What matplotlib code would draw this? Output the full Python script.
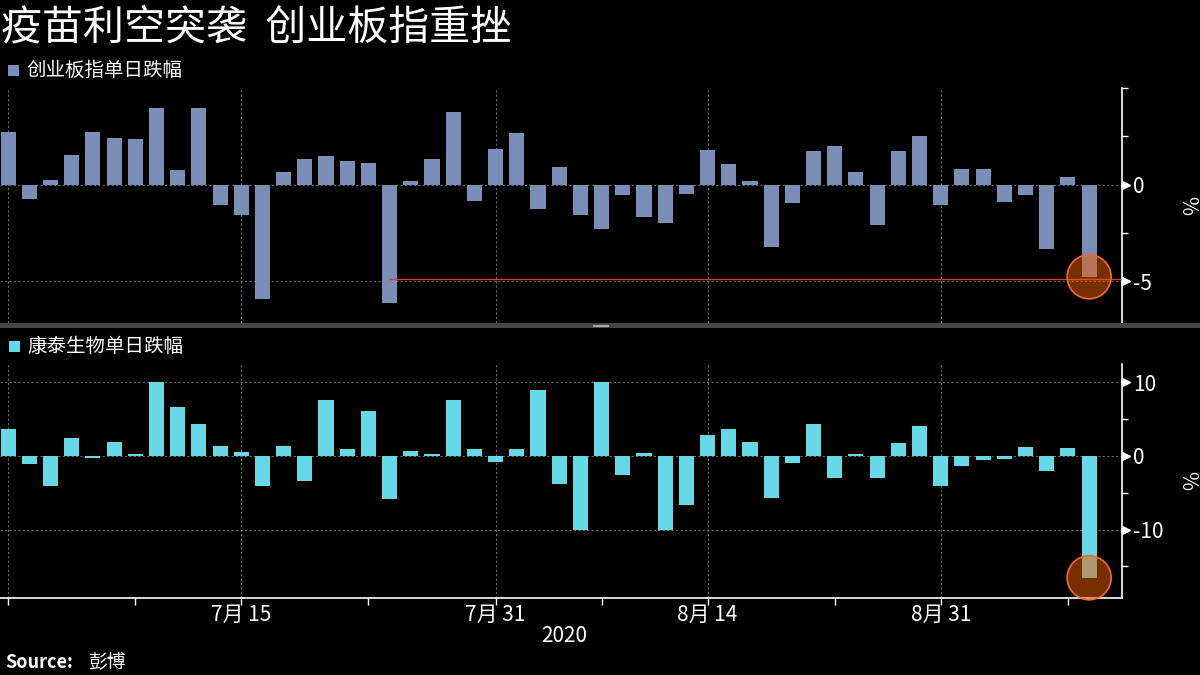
import matplotlib
matplotlib.use('Agg')
import matplotlib.pyplot as plt
from matplotlib.patches import Rectangle, Ellipse
from matplotlib.lines import Line2D

plt.rcParams['font.family'] = ['Noto Sans CJK SC', 'DejaVu Sans']

# 交易日 2020-06-30 ~ 2020-09-09
dates = ['06-30',
         '07-01', '07-02', '07-03', '07-06', '07-07', '07-08', '07-09', '07-10',
         '07-13', '07-14', '07-15', '07-16', '07-17', '07-20', '07-21', '07-22',
         '07-23', '07-24', '07-27', '07-28', '07-29', '07-30', '07-31',
         '08-03', '08-04', '08-05', '08-06', '08-07', '08-10', '08-11', '08-12',
         '08-13', '08-14', '08-17', '08-18', '08-19', '08-20', '08-21', '08-24',
         '08-25', '08-26', '08-27', '08-28', '08-31',
         '09-01', '09-02', '09-03', '09-04', '09-07', '09-08', '09-09']

# 创业板指单日涨跌 (%)
chinext = [2.75, -0.74, 0.22, 1.56, 2.70, 2.44, 2.34, 3.99, 0.74, 3.99,
           -1.05, -1.56, -5.89, 0.64, 1.31, 1.46, 1.20, 1.10, -6.10,
           0.17, 1.31, 3.78, -0.84, 1.87, 2.65, -1.25, 0.94, -1.56, -2.29,
           -0.53, -1.67, -1.98, -0.48, 1.77, 1.05, 0.17, -3.21, -0.95,
           1.72, 1.98, 0.64, -2.08, 1.72, 2.54, -1.05, 0.79, 0.79, -0.89,
           -0.53, -3.32, 0.38, -4.76]

# 康泰生物单日涨跌 (%)
kangtai = [3.67, -1.04, -4.04, 2.45, -0.23, 1.90, 0.27, 10.0, 6.67, 4.35,
           1.36, 0.54, -4.04, 1.36, -3.36, 7.62, 0.95, 6.12, -5.80,
           0.68, 0.27, 7.62, 0.95, -0.77, 0.95, 8.98, -3.76, -10.0, 10.0,
           -2.54, 0.41, -10.0, -6.62, 2.86, 3.67, 1.90, -5.67, -0.91,
           4.35, -2.95, 0.27, -2.95, 1.77, 4.08, -4.04, -1.32, -0.50, -0.36,
           1.22, -2.00, 1.09, -16.55]

ref_level = -4.88   # 红色参考线
ref_start = '07-24'

major_dates = ['06-30', '07-15', '07-31', '08-14', '08-31']
major_labels = ['', '7月 15', '7月 31', '8月 14', '8月 31']
minor_dates = ['07-08', '07-23', '08-07', '08-24', '09-08']

top_color = '#7a8eb7'
bot_color = '#66d8e6'
grid_color = '#6a6a6a'

x = list(range(len(dates)))
major_x = [dates.index(d) for d in major_dates]
minor_x = [dates.index(d) for d in minor_dates]

fig = plt.figure(figsize=(12, 6.75), dpi=100, facecolor='black')
W, H = 1200, 675

ax1 = fig.add_axes([0, 1 - 323 / H, 1122 / W, 235 / H])
ax2 = fig.add_axes([0, 1 - 598 / H, 1122 / W, 234 / H])

for ax in (ax1, ax2):
    ax.set_facecolor('black')
    ax.set_xlim(-0.38, 52.55)
    for s in ('left', 'top', 'bottom'):
        ax.spines[s].set_visible(False)
    ax.spines['right'].set_color('white')
    ax.spines['right'].set_linewidth(1.2)
    ax.yaxis.tick_right()
    ax.set_xticks(major_x)
    ax.set_xticks(minor_x, minor=True)
    ax.grid(True, which='major', color=grid_color, linestyle=(0, (2, 2)), linewidth=0.8)
    ax.set_axisbelow(True)
    ax.tick_params(axis='y', which='major', length=0, pad=8, labelcolor='white', labelsize=15)
    ax.tick_params(axis='y', which='minor', length=4, width=1, color='white', direction='out')

ax1.bar(x, chinext, width=0.71, color=top_color, zorder=2)
ax2.bar(x, kangtai, width=0.71, color=bot_color, zorder=2)

ax1.set_ylim(-7.15, 5)
ax1.set_yticks([0, -5], ['0', '-5'])
ax1.set_yticks([5, 2.5, -2.5], minor=True)
ax1.tick_params(axis='x', which='both', length=0, labelbottom=False)

ax2.set_ylim(-19.3, 12.5)
ax2.set_yticks([10, 0, -10], ['10', '0', '-10'])
ax2.set_yticks([5, -5, -15], minor=True)
ax2.spines['bottom'].set_visible(True)
ax2.spines['bottom'].set_color('white')
ax2.spines['bottom'].set_linewidth(1.2)
ax2.set_xticklabels(major_labels)
ax2.tick_params(axis='x', which='both', length=5, width=1, color='white', direction='out',
                labelcolor='white', labelsize=15, pad=-1)

# 主刻度三角
for ax, vals in ((ax1, [0, -5]), (ax2, [10, 0, -10])):
    ax.plot([1.004] * len(vals), vals, linestyle='none', marker='>', markersize=6,
            color='white', transform=ax.get_yaxis_transform(), clip_on=False, zorder=5)
    ax.text(1.058, 0.5, '%', transform=ax.transAxes, rotation=270, color='white',
            fontsize=15, ha='center', va='center')

# 红色参考线
ax1.plot([dates.index(ref_start), 52.55], [ref_level, ref_level], color='#e0363a',
         linewidth=1, zorder=3)


# 圆圈标注（像素上画成正圆）
def mark(ax, xi, yi):
    cx, cy = ax.transData.transform((xi, yi))
    fx, fy = fig.transFigure.inverted().transform((cx, cy))
    e = Ellipse((fx, fy), 44 / W, 44 / H, transform=fig.transFigure,
                facecolor=(0.95, 0.36, 0.0, 0.5), edgecolor='#f06a30', linewidth=1.2, zorder=6)
    fig.patches.append(e)


last = len(dates) - 1
mark(ax1, last, chinext[last])
mark(ax2, last, kangtai[last])

# 分隔条
fig.patches.append(Rectangle((0, 1 - 327.5 / H), 1, 4.5 / H, transform=fig.transFigure,
                             facecolor='#464646', edgecolor='none'))
for yy in (324.6, 326.2):
    fig.lines.append(Line2D([593 / W, 608 / W], [1 - yy / H, 1 - yy / H],
                            transform=fig.transFigure, color='#a8a8a8', linewidth=0.8))

# 标题与图例
fig.text(1 / W, 1 - 28 / H, '疫苗利空突袭  创业板指重挫', color='white', fontsize=29.5,
         ha='left', va='center')
fig.patches.append(Rectangle((8 / W, 1 - 76 / H), 11 / W, 11 / H, transform=fig.transFigure,
                             facecolor=top_color, edgecolor='none'))
fig.text(26 / W, 1 - 70 / H, '创业板指单日跌幅', color='white', fontsize=14,
         ha='left', va='center')
fig.patches.append(Rectangle((9 / W, 1 - 352 / H), 11 / W, 11 / H, transform=fig.transFigure,
                             facecolor=bot_color, edgecolor='none'))
fig.text(27 / W, 1 - 346 / H, '康泰生物单日跌幅', color='white', fontsize=14,
         ha='left', va='center')

fig.text(564 / W, 1 - 636 / H, '2020', color='white', fontsize=15, ha='center', va='center')
fig.text(5 / W, 1 - 663 / H, 'Source:', color='white', fontsize=13, fontweight='bold',
         ha='left', va='center')
fig.text(88 / W, 1 - 663 / H, '彭博', color='white', fontsize=13.5, ha='left', va='center')

fig.savefig('out.png', dpi=100, facecolor='black')
